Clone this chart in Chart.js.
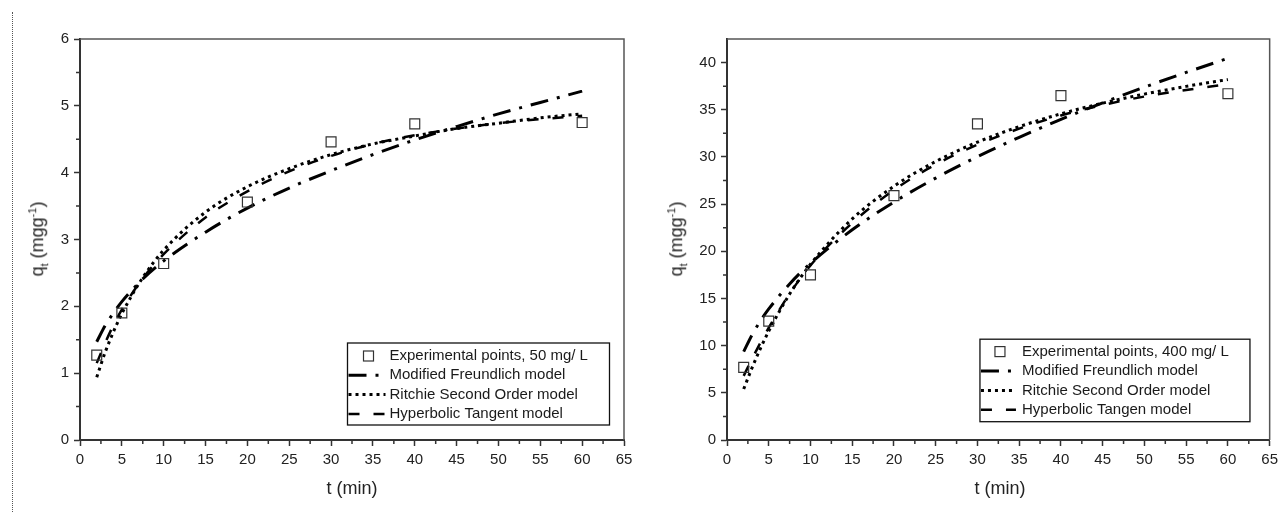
<!DOCTYPE html>
<html>
<head>
<meta charset="utf-8">
<script src="https://cdn.jsdelivr.net/npm/chart.js@4.4.1/dist/chart.umd.min.js"></script>
<style>
    body { margin: 0; background: #fff; width: 1279px; height: 512px; position: relative; overflow: hidden;
           font-family: "Liberation Sans", Arial, sans-serif; color: #222; }
    .borde { position: absolute; left: 12px; top: 12px; bottom: 0; border-left: 1px dotted #555; }
    canvas { position: absolute; top: 0; }
    #chart50 { left: 0; }
    #chart400 { left: 645px; }
    .titulo { position: absolute; white-space: nowrap; font-size: 18px; line-height: 18px; transform: translate(-50%, -50%); }
    .titulo.vertical { transform: translate(-50%, -50%) rotate(-90deg); }
    sub, sup { font-size: 11px; }
</style>
</head>
<body>
<div class="borde"></div>
<canvas id="chart50" width="645" height="512"></canvas>
<canvas id="chart400" width="638" height="512"></canvas>
<div class="titulo vertical" style="left:38px; top:239px;">q<sub>t</sub> (mgg<sup>-1</sup>)</div>
<div class="titulo vertical" style="left:677px; top:239px;">q<sub>t</sub> (mgg<sup>-1</sup>)</div>
<div class="titulo" style="left:352px; top:488px;">t (min)</div>
<div class="titulo" style="left:1000px; top:488px;">t (min)</div>

<script>
// ===== DATOS =====
const tExp = [2, 5, 10, 20, 30, 40, 60];
const qExp50 = [1.27, 1.90, 2.64, 3.56, 4.46, 4.73, 4.75];
const qExp400 = [7.7, 12.6, 17.5, 25.9, 33.5, 36.5, 36.7];

const tModelo = [2, 3, 4, 5, 7.5, 10, 15, 20, 25, 30, 35, 40, 45, 50, 55, 60];
const freundlich50 = [1.47, 1.71, 1.90, 2.07, 2.41, 2.68, 3.11, 3.47, 3.77, 4.03, 4.27, 4.49, 4.69, 4.88, 5.05, 5.22];
const ritchie50 = [0.94, 1.31, 1.62, 1.89, 2.43, 2.84, 3.41, 3.79, 4.06, 4.27, 4.43, 4.55, 4.66, 4.74, 4.82, 4.88];
const hiperbolica50 = [1.15, 1.45, 1.72, 1.95, 2.42, 2.78, 3.33, 3.72, 4.02, 4.25, 4.43, 4.56, 4.66, 4.74, 4.80, 4.85];

const freundlich400 = [9.37, 11.15, 12.62, 13.89, 16.54, 18.72, 22.28, 25.22, 27.76, 30.03, 32.08, 33.98, 35.74, 37.40, 38.96, 40.45];
const ritchie400 = [5.4, 7.65, 9.69, 11.54, 15.47, 18.63, 23.43, 26.90, 29.52, 31.57, 33.21, 34.57, 35.70, 36.66, 37.48, 38.2];
const hiperbolica400 = [6.8, 8.6, 10.3, 11.9, 15.5, 18.5, 23.0, 26.5, 29.2, 31.3, 33.0, 34.4, 35.5, 36.4, 37.1, 37.7];

const etiquetas50 = ['Experimental points, 50 mg/ L', 'Modified Freundlich model', 'Ritchie Second Order model', 'Hyperbolic Tangent model'];
const etiquetas400 = ['Experimental points, 400 mg/ L', 'Modified Freundlich model', 'Ritchie Second Order model', 'Hyperbolic Tangen model'];

const FUENTE = '"Liberation Sans", Arial, sans-serif';

function puntos(xs, ys) {
    return xs.map((x, i) => ({ x: x, y: ys[i] }));
}

// ===== PLUGIN: marco superior/derecho + ticks menores =====
const marco = {
    id: 'marco',
    afterDraw(chart, args, o) {
        const { ctx, chartArea, scales } = chart;
        ctx.save();
        ctx.strokeStyle = '#555';
        ctx.lineWidth = 1.5;
        ctx.beginPath();
        ctx.moveTo(chartArea.left, chartArea.top);
        ctx.lineTo(chartArea.right, chartArea.top);
        ctx.lineTo(chartArea.right, chartArea.bottom);
        ctx.stroke();

        // ticks menores
        ctx.strokeStyle = '#333';
        ctx.lineWidth = 1.5;
        ctx.beginPath();
        for (let v = o.xMenor; v < scales.x.max; v += o.xMenor * 2) {
            const px = scales.x.getPixelForValue(v);
            ctx.moveTo(px, chartArea.bottom);
            ctx.lineTo(px, chartArea.bottom + 4);
        }
        for (let v = o.yMenor; v < scales.y.max; v += o.yMenor * 2) {
            const py = scales.y.getPixelForValue(v);
            ctx.moveTo(chartArea.left, py);
            ctx.lineTo(chartArea.left - 4, py);
        }
        ctx.stroke();
        ctx.restore();
    }
};

// ===== PLUGIN: leyenda dentro del área =====
const leyendaCaja = {
    id: 'leyendaCaja',
    afterDraw(chart, args, o) {
        const { ctx, chartArea } = chart;
        const x0 = chartArea.right - o.derecha - o.ancho;
        const y0 = chartArea.bottom - o.abajo - o.alto;
        ctx.save();
        ctx.fillStyle = '#fff';
        ctx.fillRect(x0, y0, o.ancho, o.alto);
        ctx.strokeStyle = '#111';
        ctx.lineWidth = 1.3;
        ctx.strokeRect(x0, y0, o.ancho, o.alto);
        ctx.font = '15px ' + FUENTE;
        ctx.textBaseline = 'middle';
        chart.data.datasets.forEach((ds, i) => {
            const yy = y0 + o.primeraFila + i * o.filaAlto;
            ctx.strokeStyle = ds.borderColor;
            if (ds.showLine === false) {
                ctx.setLineDash([]);
                ctx.lineWidth = 1.2;
                ctx.strokeRect(x0 + o.marca - 5, yy - 5, 10, 10);
            } else {
                ctx.setLineDash(ds.borderDash || []);
                ctx.lineWidth = ds.borderWidth;
                ctx.beginPath();
                ctx.moveTo(x0 + 1, yy);
                ctx.lineTo(x0 + o.muestra, yy);
                ctx.stroke();
            }
            ctx.setLineDash([]);
            ctx.fillStyle = '#1a1a1a';
            ctx.fillText(ds.label, x0 + o.texto, yy);
        });
        ctx.restore();
    }
};

// ===== CREAR GRÁFICO =====
function crearGrafico(id, cfg) {
    const ctx = document.getElementById(id).getContext('2d');
    const linea = (label, datos, dash, ancho) => ({
        label: label,
        data: puntos(tModelo, datos),
        borderColor: '#000',
        borderWidth: ancho,
        borderDash: dash,
        pointRadius: 0,
        fill: false,
        tension: 0.4,
        cubicInterpolationMode: 'monotone'
    });

    new Chart(ctx, {
        type: 'line',
        data: {
            datasets: [
                {
                    label: cfg.etiquetas[0],
                    data: puntos(tExp, cfg.exp),
                    showLine: false,
                    pointStyle: 'rect',
                    pointRadius: 7,
                    pointBorderWidth: 1.2,
                    borderColor: '#333',
                    backgroundColor: 'rgba(0,0,0,0)'
                },
                linea(cfg.etiquetas[1], cfg.freundlich, [18, 9, 3, 9], 3),
                linea(cfg.etiquetas[2], cfg.ritchie, [3, 4], 3),
                linea(cfg.etiquetas[3], cfg.hiperbolica, [11, 14], 2.5)
            ]
        },
        options: {
            responsive: false,
            animation: false,
            devicePixelRatio: 1,
            layout: { padding: { top: 39, right: cfg.padDerecha, bottom: 0, left: 0 } },
            plugins: {
                legend: { display: false },
                tooltip: { enabled: false },
                marco: { xMenor: 2.5, yMenor: cfg.yPaso / 2 },
                leyendaCaja: cfg.leyenda
            },
            scales: {
                x: {
                    type: 'linear',
                    min: 0,
                    max: 65,
                    afterFit: s => { s.height = 72; },
                    ticks: { stepSize: 5, padding: 5, color: '#222', font: { family: FUENTE, size: 15 }, maxRotation: 0 },
                    grid: { drawOnChartArea: false, tickLength: 6, tickColor: '#333', tickWidth: 1.5 },
                    border: { color: '#333', width: 2 }
                },
                y: {
                    min: 0,
                    max: cfg.yMax,
                    afterFit: s => { s.width = cfg.anchoY; },
                    ticks: { stepSize: cfg.yPaso, includeBounds: false, padding: 5, color: '#222', font: { family: FUENTE, size: 15 } },
                    grid: { drawOnChartArea: false, tickLength: 6, tickColor: '#333', tickWidth: 1.5 },
                    border: { color: '#333', width: 2 }
                }
            }
        },
        plugins: [marco, leyendaCaja]
    });
}

crearGrafico('chart50', {
    exp: qExp50, freundlich: freundlich50, ritchie: ritchie50, hiperbolica: hiperbolica50,
    etiquetas: etiquetas50,
    yMax: 6, yPaso: 1, anchoY: 80, padDerecha: 21,
    leyenda: { ancho: 262, alto: 82, derecha: 14.5, abajo: 15, primeraFila: 13, filaAlto: 19.3, marca: 21, muestra: 38, texto: 42 }
});

crearGrafico('chart400', {
    exp: qExp400, freundlich: freundlich400, ritchie: ritchie400, hiperbolica: hiperbolica400,
    etiquetas: etiquetas400,
    yMax: 42.5, yPaso: 5, anchoY: 82, padDerecha: 11,
    leyenda: { ancho: 270, alto: 82.5, derecha: 19.7, abajo: 18.3, primeraFila: 12.4, filaAlto: 19.4, marca: 20, muestra: 36, texto: 42 }
});
</script>
</body>
</html>
